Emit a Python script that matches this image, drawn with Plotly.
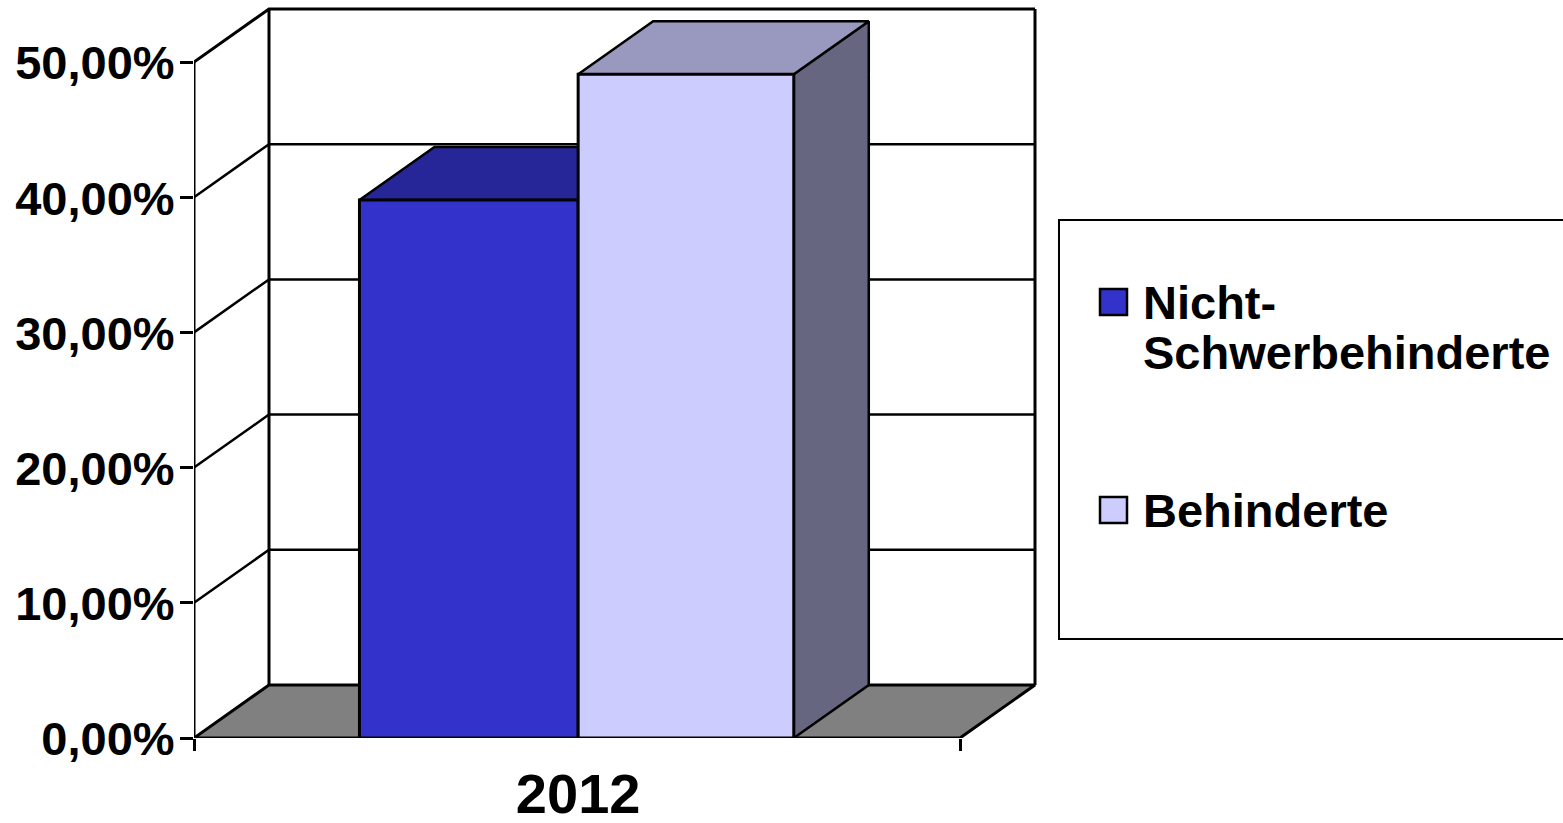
import plotly.graph_objects as go

# ---- data ----
categories = ["2012"]
series_names = ["Nicht-Schwerbehinderte", "Behinderte"]
series_values = [39.8, 49.1]
tick_values = [0, 10, 20, 30, 40, 50]
tick_labels = ["0,00%", "10,00%", "20,00%", "30,00%", "40,00%", "50,00%"]
legend_lines = [["Nicht-", "Schwerbehinderte"], ["Behinderte"]]

# ---- styles ----
W, H = 1563, 823
FONT = "Liberation Sans"
FRONT = ["#3333CC", "#CCCCFF"]
TOP = ["#262699", "#9999BF"]
SIDE = ["#1A1A66", "#666680"]
FLOOR = "#808080"
INK = "#000000"

# pixel frame of the front plane
X0_PX, X1_PX = 194, 960
Y0_PX, Y50_PX = 738, 62
px_per_x = X1_PX - X0_PX
px_per_y = (Y0_PX - Y50_PX) / 50
DX = 75 / px_per_x      # oblique depth in axis units
DY = 53 / px_per_y
BAR_EDGES = [0.216, 0.5015, 0.783]


def px(v):
    return v / W


def py(v):
    return 1 - v / H


fig = go.Figure()


def poly(xs, ys, fill=None, lw=2, name=None):
    fig.add_trace(go.Scatter(
        x=xs, y=ys, mode="lines", name=name, showlegend=False, hoverinfo="skip",
        fill="toself" if fill else None, fillcolor=fill,
        line=dict(color=INK, width=lw),
    ))


# floor
poly([0, 1, 1 + DX, DX, 0], [0, 0, DY, DY, 0], FLOOR, 3)
# y axis line and wall edges
poly([0, 0], [0, 50], lw=3)
poly([DX, DX], [DY, 50 + DY], lw=3)
poly([1 + DX, 1 + DX], [DY, 50 + DY], lw=3)
# gridlines on side and back wall
for t in tick_values:
    lw = 3 if t == 50 else 2.5
    if t == 0:
        continue
    poly([0, DX, 1 + DX], [t, t + DY, t + DY], lw=lw)

# bars
for i, (v, name) in enumerate(zip(series_values, series_names)):
    a = BAR_EDGES[i]
    b = BAR_EDGES[i + 1]
    poly([b, b + DX, b + DX, b, b], [0, DY, v + DY, v, 0], SIDE[i], 2.5)
    poly([a, b, b + DX, a + DX, a], [v, v, v + DY, v + DY, v], TOP[i], 2.5)
    poly([a, b, b, a, a], [0, 0, v, v, 0], FRONT[i], 3, name)

# legend box
shapes = [dict(type="rect", xref="paper", yref="paper",
               x0=px(1059), x1=px(1575), y0=py(639), y1=py(220),
               line=dict(color=INK, width=2), fillcolor="rgba(0,0,0,0)")]
annotations = []
swatch_y = [302, 510]
line_y = [[302, 352], [510]]
for i in range(len(series_names)):
    shapes.append(dict(type="rect", xref="paper", yref="paper",
                       x0=px(1100), x1=px(1127),
                       y0=py(swatch_y[i] + 13), y1=py(swatch_y[i] - 13),
                       line=dict(color=INK, width=2.5), fillcolor=FRONT[i]))
    for txt, ly in zip(legend_lines[i], line_y[i]):
        annotations.append(dict(text=txt, xref="paper", yref="paper", x=px(1141), y=py(ly),
                                xanchor="left", yanchor="middle", showarrow=False,
                                font=dict(family=FONT, size=47, color=INK, weight=700)))

fig.update_layout(
    width=W, height=H, margin=dict(l=0, r=0, t=0, b=0, autoexpand=False), autosize=False,
    paper_bgcolor="white", plot_bgcolor="rgba(0,0,0,0)", showlegend=False,
    shapes=shapes, annotations=annotations,
    xaxis=dict(
        domain=[px(X0_PX), 1], range=[0, (W - X0_PX) / px_per_x],
        automargin=False,
        showgrid=False, zeroline=False, showline=False, fixedrange=True,
        tickmode="array", tickvals=[0.5015], ticktext=categories, ticks="",
        tickfont=dict(family=FONT, size=56, color=INK, weight=700),
        ticklabelstandoff=18,
        minor=dict(ticks="outside", ticklen=12, tickwidth=2.5, tickcolor=INK,
                   tickmode="array", tickvals=[0, 1], showgrid=False),
    ),
    yaxis=dict(
        domain=[1 - Y0_PX / H, 1], range=[0, Y0_PX / px_per_y],
        automargin=False,
        showgrid=False, zeroline=False, showline=False, fixedrange=True,
        tickmode="array", tickvals=tick_values, ticktext=tick_labels,
        ticks="outside", ticklen=13, tickwidth=2.5, tickcolor=INK,
        ticklabelstandoff=-4, ticklabelshift=1,
        tickfont=dict(family=FONT, size=47, color=INK, weight=700),
    ),
)

fig.write_html("out.html", config={"displayModeBar": False},
               post_script="document.body.style.margin='0';document.documentElement.style.overflow='hidden';")
